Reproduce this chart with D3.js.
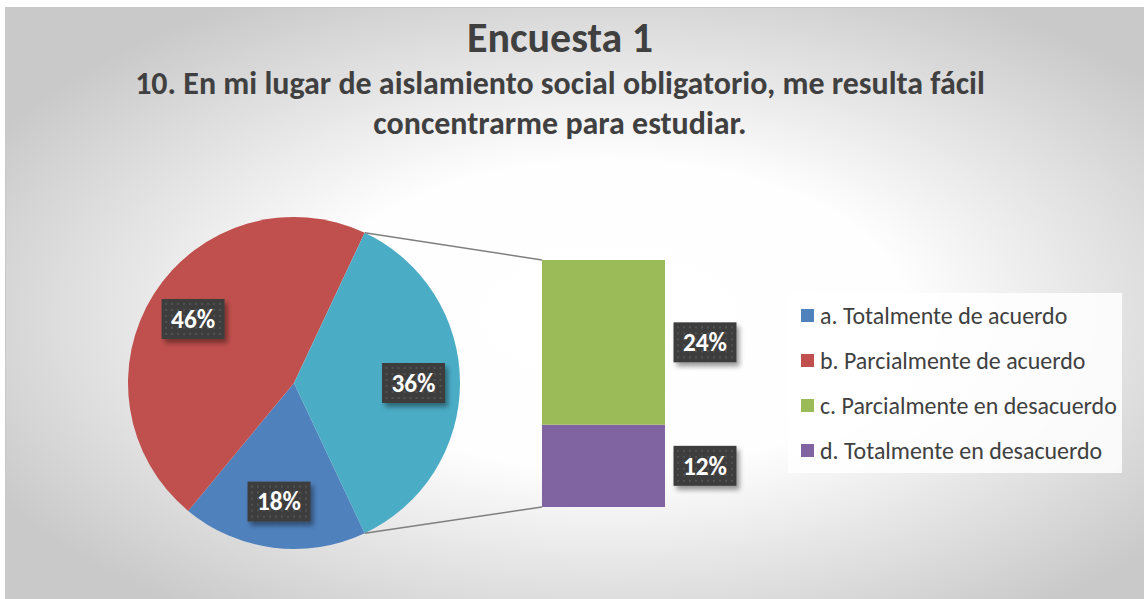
<!DOCTYPE html>
<html>
<head>
<meta charset="utf-8">
<script src="https://cdn.jsdelivr.net/npm/d3@7"></script>
<style>
  html, body { margin: 0; padding: 0; background: #ffffff; }
  svg { display: block; }
  text { font-family: Carlito, Calibri, Lato, "Open Sans", sans-serif; }
</style>
</head>
<body>
<svg id="chart" width="1144" height="599"></svg>
<script>
// ---- data ----
const categories = ["a. Totalmente de acuerdo", "b. Parcialmente de acuerdo", "c. Parcialmente en desacuerdo", "d. Totalmente en desacuerdo"];
const values = [18, 46, 24, 12];               // percent
const pieCategories = ["a. Totalmente de acuerdo", "b. Parcialmente de acuerdo"];
const barCategories = ["c. Parcialmente en desacuerdo", "d. Totalmente en desacuerdo"];
const seriesColors = ["#4f81bd", "#c0504d", "#9bbb59", "#8064a2"];
const otherColor = "#4bacc6";
const titleText = "Encuesta 1";
const subtitleLines = ["10. En mi lugar de aislamiento social obligatorio, me resulta fácil", "concentrarme para estudiar."];

// ---- layout ----
const W = 1144, H = 599;
const svg = d3.select("#chart");
const defs = svg.append("defs");

const grad = defs.append("radialGradient").attr("id", "bg")
  .attr("cx", "0.53").attr("cy", "0.52").attr("r", "0.62");
grad.append("stop").attr("offset", "0").attr("stop-color", "#ffffff");
grad.append("stop").attr("offset", "0.42").attr("stop-color", "#fefefe");
grad.append("stop").attr("offset", "1").attr("stop-color", "#c9c9c9");

const pat = defs.append("pattern").attr("id", "dots").attr("patternUnits", "userSpaceOnUse")
  .attr("width", 6).attr("height", 6);
pat.append("rect").attr("width", 6).attr("height", 6).attr("fill", "#3e3e3e");
pat.append("rect").attr("x", 2).attr("y", 2).attr("width", 2).attr("height", 2).attr("fill", "#515151");

const sh = defs.append("filter").attr("id", "shadow").attr("x", "-30%").attr("y", "-30%").attr("width", "170%").attr("height", "180%");
sh.append("feGaussianBlur").attr("in", "SourceAlpha").attr("stdDeviation", 2.5).attr("result", "b");
sh.append("feOffset").attr("in", "b").attr("dx", 3).attr("dy", 4).attr("result", "o");
sh.append("feComponentTransfer").attr("in", "o").attr("result", "o2")
  .append("feFuncA").attr("type", "linear").attr("slope", 0.4);
const mg = sh.append("feMerge");
mg.append("feMergeNode").attr("in", "o2");
mg.append("feMergeNode").attr("in", "SourceGraphic");

// chart area
svg.append("rect").attr("x", 5.5).attr("y", 7.5).attr("width", W - 5).attr("height", H - 7)
  .attr("fill", "url(#bg)").attr("stroke", "#c8c8c8").attr("stroke-width", 1);

function fitText(sel, targetWidth, startSize) {
  sel.attr("font-size", startSize);
  const w = sel.node().getComputedTextLength();
  sel.attr("font-size", startSize * targetWidth / w);
}

// titles
const t = svg.append("text").attr("x", 560).attr("y", 52).attr("text-anchor", "middle")
  .attr("font-weight", "bold").attr("fill", "#404040").text(titleText);
fitText(t, 186, 38);
const s1 = svg.append("text").attr("x", 560).attr("y", 94).attr("text-anchor", "middle")
  .attr("font-weight", "bold").attr("fill", "#404040").text(subtitleLines[0]);
fitText(s1, 850, 26);
const s2 = svg.append("text").attr("x", 560).attr("y", 134).attr("text-anchor", "middle")
  .attr("font-weight", "bold").attr("fill", "#404040").text(subtitleLines[1]);
s2.attr("font-size", s1.attr("font-size"));

// ---- pie ----
const cx = 294, cy = 383, R = 166;
const colorOf = d3.scaleOrdinal().domain(categories).range(seriesColors);
const otherValue = d3.sum(barCategories, c => values[categories.indexOf(c)]);
const pieData = pieCategories.map(c => ({ name: c, value: values[categories.indexOf(c)], color: colorOf(c) }))
  .concat([{ name: "other", value: otherValue, color: otherColor }]);
const total = d3.sum(pieData, d => d.value);
const start = Math.PI / 2 + Math.PI * otherValue / total;
const pie = d3.pie().sort(null).value(d => d.value).startAngle(start).endAngle(start + 2 * Math.PI);
const arcs = pie(pieData);
const arc = d3.arc().innerRadius(0).outerRadius(R);
const labelArc = d3.arc().innerRadius(R * 0.72).outerRadius(R * 0.72);

const gPie = svg.append("g").attr("transform", `translate(${cx},${cy})`);
gPie.selectAll("path").data(arcs).join("path").attr("d", arc).attr("fill", d => d.data.color);

// ---- bar (secondary) ----
const barX = d3.scaleBand().domain(["bar"]).range([542, 665]).padding(0);
const barY = d3.scaleLinear().domain([0, otherValue]).range([507, 260]);
const barData = barCategories.slice().reverse(); // bottom first
let acc = 0;
const stacked = barData.map(c => { const v = values[categories.indexOf(c)]; const o = { name: c, y0: acc, y1: acc + v, value: v }; acc += v; return o; });
svg.append("g").selectAll("rect").data(stacked).join("rect")
  .attr("x", barX("bar")).attr("width", barX.bandwidth())
  .attr("y", d => barY(d.y1)).attr("height", d => barY(d.y0) - barY(d.y1))
  .attr("fill", d => colorOf(d.name));

// connector lines
const otherArc = arcs[arcs.length - 1];
const pTop = [cx + R * Math.sin(otherArc.startAngle), cy - R * Math.cos(otherArc.startAngle)];
const pBot = [cx + R * Math.sin(otherArc.endAngle), cy - R * Math.cos(otherArc.endAngle)];
const line = d3.line();
svg.append("path").attr("d", line([pTop, [barX("bar"), barY(otherValue)]]))
  .attr("stroke", "#7f7f7f").attr("stroke-width", 1.5).attr("fill", "none");
svg.append("path").attr("d", line([pBot, [barX("bar"), barY(0)]]))
  .attr("stroke", "#7f7f7f").attr("stroke-width", 1.5).attr("fill", "none");

// ---- labels ----
function label(x, y, txt) {
  const g = svg.append("g").attr("transform", `translate(${x},${y})`);
  g.append("rect").attr("x", -31.5).attr("y", -20).attr("width", 63).attr("height", 40)
    .attr("fill", "url(#dots)").attr("filter", "url(#shadow)");
  const tt = g.append("text").attr("text-anchor", "middle").attr("dy", "0.35em")
    .attr("font-weight", "bold").attr("fill", "#ffffff").text(txt);
  fitText(tt, 44, 22);
}
arcs.forEach(a => {
  const [lx, ly] = labelArc.centroid(a);
  label(cx + lx, cy + ly, d3.format(".0%")(a.data.value / 100));
});
stacked.forEach(d => {
  label(barX("bar") + barX.bandwidth() + 40, barY((d.y0 + d.y1) / 2), d3.format(".0%")(d.value / 100));
});

// ---- legend ----
svg.append("rect").attr("x", 788).attr("y", 293).attr("width", 334).attr("height", 180).attr("fill", "#ffffff").attr("opacity", 0.85);
const leg = svg.append("g");
const legY = d3.scalePoint().domain(categories).range([316, 451]);
let legFont = null;
categories.forEach((c, i) => {
  const y = legY(c);
  leg.append("rect").attr("x", 801).attr("y", y - 7).attr("width", 13).attr("height", 13).attr("fill", colorOf(c));
  const tx = leg.append("text").attr("x", 820).attr("y", y).attr("dy", "0.35em").attr("fill", "#404040").text(c);
  if (i === 2) { fitText(tx, 297, 20); legFont = tx.attr("font-size"); }
});
leg.selectAll("text").attr("font-size", legFont);
</script>
</body>
</html>
